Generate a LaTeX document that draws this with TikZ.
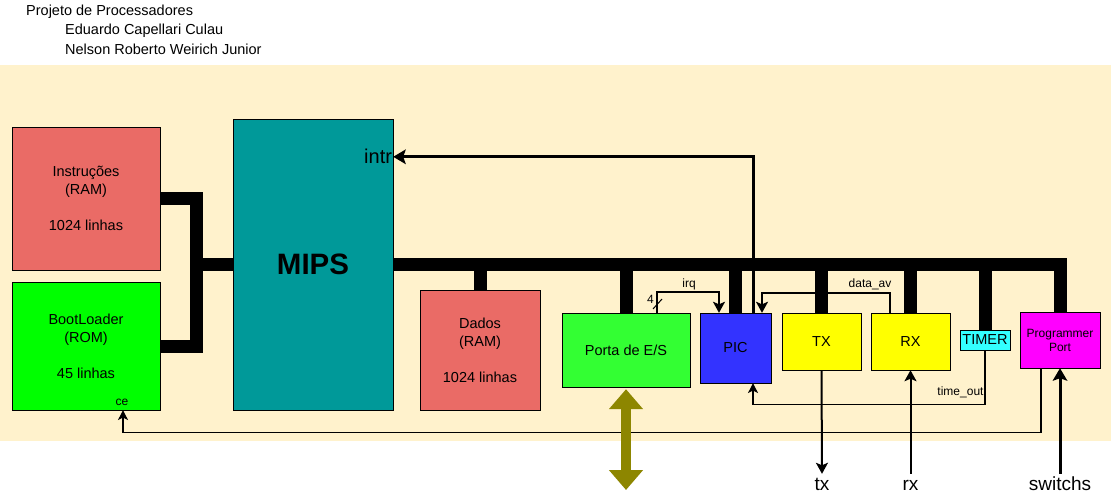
\documentclass[tikz,border=0pt]{standalone}
\usepackage{fontspec}
\setmainfont{Liberation Sans}
\usetikzlibrary{arrows.meta}
\definecolor{bgyellow}{HTML}{FFF2CC}
\definecolor{ramred}{HTML}{EA6B66}
\definecolor{romgreen}{HTML}{00FF00}
\definecolor{mipsteal}{HTML}{009999}
\definecolor{iogreen}{HTML}{33FF33}
\definecolor{picblue}{HTML}{3333FF}
\definecolor{uartyellow}{HTML}{FFFF00}
\definecolor{timercyan}{HTML}{33FFFF}
\definecolor{progmag}{HTML}{FF00FF}
\tikzset{
  blk/.style = {draw=black, align=center, inner sep=0pt, text centered,
    font=\fontsize{14.5}{18}\selectfont},
  mem/.style = {blk, fill=ramred},
  title/.style = {anchor=west, inner sep=0pt, font=\fontsize{14.5}{18}\selectfont},
  lbl/.style = {inner sep=1pt, font=\fontsize{12}{14}\selectfont},
  pin/.style = {anchor=base, inner sep=2pt, text height=14pt, text depth=0pt,
    font=\fontsize{19}{22}\selectfont},
  bus/.style = {black, line width=13pt},
  sig/.style = {->, line width=2pt},
  thinsig/.style = {->, line width=1.2pt},
  thicksig/.style = {->, line width=3pt},
  ioarrow/.style = {olive, line width=10pt,
    {Triangle[width=33pt,length=20pt]}-{Triangle[width=33pt,length=20pt]}}
}

\begin{document}
\begin{tikzpicture}[x=1pt, y=-1pt, >={Stealth[length=8pt 1.5, width=7pt 2.5, inset=2.5pt]}]
\useasboundingbox (0,0) rectangle (1111,492);
\fill[bgyellow] (0,65) rectangle (1111,441);

% titulo
\node[title] (proj) at (26,12) {Projeto de Processadores};
\node[title] (aut1) at (65,31) {Eduardo Capellari Culau};
\node[title] (aut2) at (65,49) {Nelson Roberto Weirich Junior};

% blocos
\node[mem, minimum width=148pt, minimum height=143pt] (instr) at (86,198.5)
  {Instruções\\(RAM)\\[18pt]1024 linhas};
\node[blk, fill=romgreen, minimum width=148pt, minimum height=128pt] (boot) at (86,346)
  {BootLoader\\(ROM)\\[18pt]45 linhas};
\node[blk, fill=mipsteal, minimum width=160pt, minimum height=291pt,
  font=\fontsize{29.5}{32}\selectfont\bfseries] (mips) at (313,264.5) {MIPS};
\node[mem, minimum width=120pt, minimum height=120pt] (dados) at (480,350)
  {Dados\\(RAM)\\[18pt]1024 linhas};
\node[blk, fill=iogreen, minimum width=128pt, minimum height=74pt] (porta) at (626,350) {Porta de E/S};
\node[blk, fill=picblue, minimum width=71pt, minimum height=70pt] (pic) at (735.5,348) {PIC};
\node[blk, fill=uartyellow, minimum width=79pt, minimum height=57pt] (tx) at (821.5,341.5) {TX};
\node[blk, fill=uartyellow, minimum width=79pt, minimum height=57pt] (rx) at (910.5,341.5) {RX};
\node[blk, fill=timercyan, minimum width=50pt, minimum height=20pt] (timer) at (985,340) {TIMER};
\node[blk, fill=progmag, minimum width=80pt, minimum height=56pt,
  font=\fontsize{12}{14}\selectfont] (pport) at (1060,340) {Programmer\\Port};

% pinos externos
\node[pin] (txpin) at (822,490) {tx};
\node[pin] (rxpin) at (910.5,490) {rx};
\node[pin] (swpin) at (1060,490) {switchs};
\coordinate (iobot) at (626,490);
\coordinate (intr) at ([yshift=-38pt]mips.north east);
\node[anchor=east, inner sep=1pt, font=\fontsize{20}{22}\selectfont] (intrlbl) at (intr) {intr};

% sinais
\draw[thicksig] ([xshift=17.5pt]pic.north) |- (intr);
\draw[sig] ([xshift=31pt]porta.north) -- ++(0,-21) -| ([xshift=-16.5pt]pic.north);
\draw[line width=1pt] (653,309) -- (662,299);
\node[lbl, anchor=east] (nbits) at (655,299) {4};
\node[lbl] (irqlbl) at (689,284) {irq};
\draw[sig] ([xshift=-20.5pt]rx.north) -- ++(0,-20) -| ([xshift=26.5pt]pic.north);
\node[lbl] (avlbl) at (870,284) {data\_av};
\draw[thinsig] (timer.south) -- ++(0,54) -| ([xshift=17.5pt]pic.south);
\node[lbl] (tolbl) at (960.5,392) {time\_out};
\draw[thinsig] ([xshift=-19pt]pport.south) -- ++(0,64) -| ([xshift=37pt]boot.south);
\node[lbl] (celbl) at (122,402) {ce};
\draw[sig] (tx.south) -- (txpin.north);
\draw[sig] (rxpin.north) -- (rx.south);
\draw[thicksig] (swpin.north) -- (pport.south);
\draw[ioarrow] ([yshift=-2pt]porta.south) -- (iobot);

% barramentos
\coordinate (lbus) at (196,264.5);
\draw[bus] (instr.east) -| (lbus) -- (mips.west);
\draw[bus] (boot.east) -| (lbus);
\draw[bus] (mips.east) -| (pport.north);
\foreach \n in {dados, porta, pic, tx, rx, timer}
  \draw[bus] (\n.north) -- (\n.north |- mips.east);
\end{tikzpicture}
\end{document}
